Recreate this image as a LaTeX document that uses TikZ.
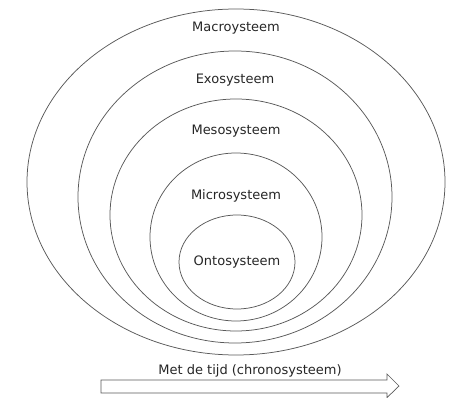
\documentclass[tikz,border=0pt]{standalone}
\usepackage{fontspec}
\setmainfont{DejaVu Sans}
\begin{document}
\begin{tikzpicture}[x=1pt,y=-1pt,
  ring/.style={draw=black!65,line width=0.75pt},
  lbl/.style={font=\fontsize{13}{15}\selectfont,text=black!85,inner sep=0pt}]
\useasboundingbox (0,0) rectangle (450,398);
\draw[ring] (236,182) ellipse [x radius=209,y radius=173];
\draw[ring] (235,197) ellipse [x radius=157,y radius=146];
\draw[ring] (236,215) ellipse [x radius=126,y radius=116];
\draw[ring] (236,237) ellipse [x radius=86,y radius=84];
\draw[ring] (237,262) ellipse [x radius=58,y radius=47];
\node[lbl] (macro) at (236,28) {Macroysteem};
\node[lbl] (exo) at (235,80) {Exosysteem};
\node[lbl] (meso) at (236,131) {Mesosysteem};
\node[lbl] (micro) at (236,196) {Microsysteem};
\node[lbl] (onto) at (237,262) {Ontosysteem};
\node[lbl] (chrono) at (250,371) {Met de tijd (chronosysteem)};
\draw[ring,line width=0.7pt] (101,380) -- (387,380) -- (387,374) -- (399,386) -- (387,397.6) -- (387,393) -- (101,393) -- cycle;
\end{tikzpicture}
\end{document}
